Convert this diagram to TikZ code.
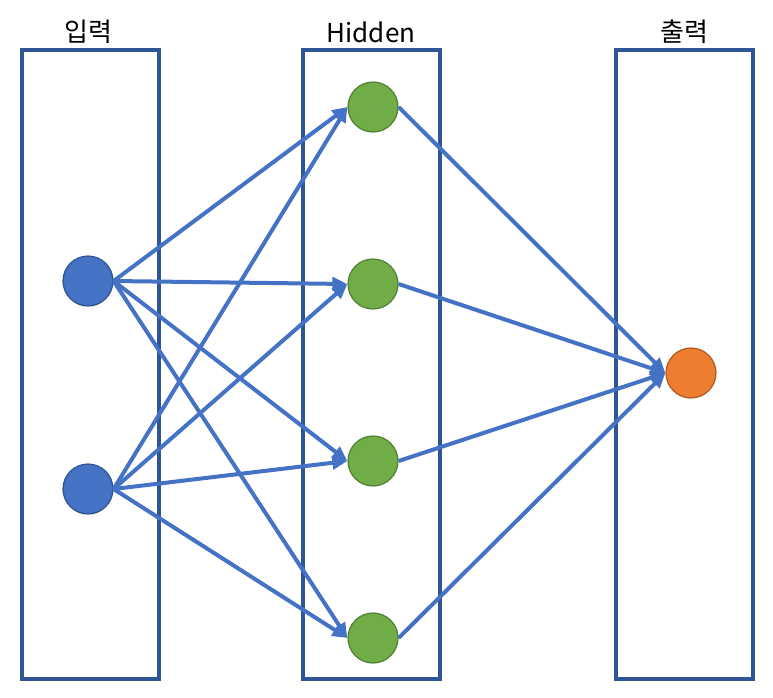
\documentclass[tikz,border=0pt]{standalone}
\usepackage{fontspec}
\setmainfont{Noto Sans CJK KR}
\usetikzlibrary{arrows.meta}

\definecolor{boxblue}{HTML}{2F5597}
\definecolor{arrblue}{HTML}{4472C4}
\definecolor{inblue}{HTML}{4472C4}
\definecolor{inedge}{HTML}{2F528F}
\definecolor{hidgreen}{HTML}{70AD47}
\definecolor{hidedge}{HTML}{507E32}
\definecolor{outorange}{HTML}{ED7D31}
\definecolor{outedge}{HTML}{AE5A21}

\begin{document}
\begin{tikzpicture}[
      x=1pt, y=-1pt,
      lbl/.style={font=\fontsize{26}{30}\selectfont,anchor=base},
      layer/.style={draw=boxblue,line width=3.5pt},
      neu/.style={circle,minimum size=50pt,inner sep=0pt,line width=1.2pt},
      arr/.style={-{Triangle[length=15pt,width=13pt]},line width=4pt,arrblue},
    ]
    \useasboundingbox (0,0) rectangle (773,697);

    \draw[layer] (22,50) rectangle (159,679);
    \draw[layer] (303,50) rectangle (440,679);
    \draw[layer] (616,50) rectangle (753,679);

    \node[lbl] (tin) at (88,41) {입력};
    \node[lbl] (thid) at (371,42) {Hidden};
    \node[lbl] (tout) at (684,41) {출력};

    \node[neu,fill=inblue,draw=inedge] (i1) at (88,281) {};
    \node[neu,fill=inblue,draw=inedge] (i2) at (88,489) {};

    \node[neu,fill=hidgreen,draw=hidedge] (h1) at (373,107) {};
    \node[neu,fill=hidgreen,draw=hidedge] (h2) at (373,284) {};
    \node[neu,fill=hidgreen,draw=hidedge] (h3) at (373,461) {};
    \node[neu,fill=hidgreen,draw=hidedge] (h4) at (373,638) {};

    \node[neu,fill=outorange,draw=outedge] (o1) at (691,373) {};

    \foreach \s in {i1,i2} {
      \foreach \t in {h1,h2,h3,h4} {
        \draw[arr] (\s.east) -- (\t.west);
      }
    }
    \foreach \s in {h1,h2,h3,h4} {
      \draw[arr] (\s.east) -- (o1.west);
    }
  \end{tikzpicture}
\end{document}
